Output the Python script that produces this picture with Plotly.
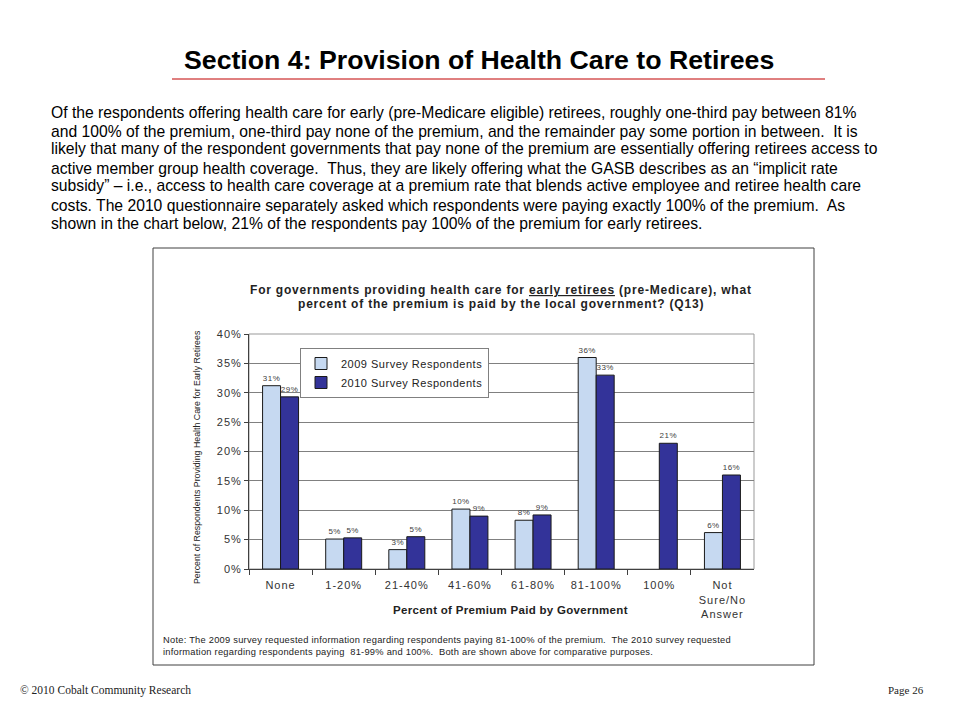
import plotly.graph_objects as go

# ---------------- data ----------------
categories = ["None", "1-20%", "21-40%", "41-60%", "61-80%", "81-100%", "100%",
              "Not<br>Sure/No<br>Answer"]
values_2009 = [31.2, 5.1, 3.3, 10.2, 8.3, 36.0, None, 6.2]
values_2010 = [29.3, 5.3, 5.5, 9.0, 9.2, 33.0, 21.4, 16.0]
labels_2009 = ["31%", "5%", "3%", "10%", "8%", "36%", "", "6%"]
labels_2010 = ["29%", "5%", "5%", "9%", "9%", "33%", "21%", "16%"]
series_names = ["2009 Survey Respondents", "2010 Survey Respondents"]
y_ticks = [0, 5, 10, 15, 20, 25, 30, 35, 40]
y_tick_labels = ["0%", "5%", "10%", "15%", "20%", "25%", "30%", "35%", "40%"]

heading = "Section 4: Provision of Health Care to Retirees"
paragraph_lines = [
    "Of the respondents offering health care for early (pre-Medicare eligible) retirees, roughly one-third pay between 81%",
    "and 100% of the premium, one-third pay none of the premium, and the remainder pay some portion in between.  It is",
    "likely that many of the respondent governments that pay none of the premium are essentially offering retirees access to",
    "active member group health coverage.  Thus, they are likely offering what the GASB describes as an \u201cimplicit rate",
    "subsidy\u201d \u2013 i.e., access to health care coverage at a premium rate that blends active employee and retiree health care",
    "costs. The 2010 questionnaire separately asked which respondents were paying exactly 100% of the premium.  As",
    "shown in the chart below, 21% of the respondents pay 100% of the premium for early retirees.",
]
chart_title_parts = [
    ("For governments providing health care for ", "early retirees", " (pre-Medicare), what"),
    ("percent of the premium is paid by the local government? (Q13)", "", ""),
]
x_title = "Percent of Premium Paid by Government"
y_title = "Percent of Respondents Providing Health Care for Early Retirees"
note_lines = [
    "Note: The 2009 survey requested information regarding respondents paying 81-100% of the premium.  The 2010 survey requested",
    "information regarding respondents paying  81-99% and 100%.  Both are shown above for comparative purposes.",
]
footer_left = "\u00a9 2010 Cobalt Community Research"
footer_right = "Page 26"

# ---------------- layout helpers ----------------
W, H = 960, 720


def px(x):
    return x / W


def py(y):
    return 1 - y / H


def sp(text, ls, extra=""):
    """wrap each line of text in a span with letter-spacing"""
    if not text:
        return text
    parts = text.split("<br>")
    return "<br>".join(
        '<span style="letter-spacing:%spx;%s">%s</span>' % (ls, extra, p) for p in parts)


FONT = "Liberation Sans, Arial, sans-serif"

fig = go.Figure()
fig.add_trace(go.Bar(
    x=categories, y=values_2009, name=sp(series_names[0], 0.5),
    text=[sp(t, 0.5) for t in labels_2009], textposition="outside",
    textfont=dict(size=8, color="#404040", family=FONT),
    marker=dict(color="#C6D9F1", line=dict(color="#1a1a1a", width=1)),
    cliponaxis=False,
))
fig.add_trace(go.Bar(
    x=categories, y=values_2010, name=sp(series_names[1], 0.5),
    text=[sp(t, 0.5) for t in labels_2010], textposition="outside",
    textfont=dict(size=8, color="#404040", family=FONT),
    marker=dict(color="#333399", line=dict(color="#1a1a1a", width=1)),
    cliponaxis=False,
))

fig.update_layout(
    width=W, height=H,
    margin=dict(l=0, r=0, t=0, b=0),
    paper_bgcolor="white", plot_bgcolor="white",
    font=dict(family=FONT, color="#000"),
    barmode="group", bargap=0.43, bargroupgap=0,
    showlegend=True,
    legend=dict(
        x=px(300), y=py(348), xanchor="left", yanchor="top",
        bgcolor="white", bordercolor="#808080", borderwidth=1,
        font=dict(size=11, color="#222", family=FONT),
        itemwidth=30, tracegroupgap=0,
    ),
    xaxis=dict(
        domain=[px(249), px(754)], type="category",
        range=[-0.5, 7.5], showgrid=False,
        tickvals=categories, ticktext=[sp(c, 1.0) for c in categories],
        showline=True, linecolor="#404040", linewidth=1,
        ticks="outside", tickson="boundaries", ticklen=5, tickcolor="#404040",
        tickfont=dict(size=11, color="#333", family=FONT),
        ticklabelstandoff=6,
        automargin=False,
    ),
    yaxis=dict(
        domain=[py(569), py(334)], range=[0, 40],
        tickvals=y_ticks, ticktext=[sp(t, 1.0) for t in y_tick_labels],
        showgrid=True, gridcolor="#808080", gridwidth=1,
        showline=True, linecolor="#404040", linewidth=1,
        ticks="outside", ticklen=4, tickcolor="#404040",
        tickfont=dict(size=11, color="#333", family=FONT),
        zeroline=False, automargin=False,
    ),
)

shapes = [
    # red rule under heading
    dict(type="line", xref="paper", yref="paper", x0=px(172), x1=px(825),
         y0=py(79), y1=py(79), line=dict(color="#C00000", width=1)),
    # chart frame
    dict(type="rect", xref="paper", yref="paper", x0=px(153), x1=px(814),
         y0=py(665), y1=py(248), line=dict(color="#404040", width=1), layer="below"),
    # plot area border
    dict(type="rect", xref="x domain", yref="y domain", x0=0, x1=1, y0=0, y1=1,
         line=dict(color="#999999", width=1), layer="below"),
]
fig.update_layout(shapes=shapes)

ann = []
ann.append(dict(text="<b>" + heading + "</b>", x=px(479), y=py(60), xref="paper", yref="paper",
                xanchor="center", yanchor="middle", showarrow=False,
                font=dict(size=26.7, color="#000", family=FONT)))
para_y = [112, 131, 149, 168, 186, 205, 223]
for line, yy in zip(paragraph_lines, para_y):
    ann.append(dict(text=line, x=px(49), y=py(yy), xref="paper", yref="paper",
                    xanchor="left", yanchor="middle", showarrow=False,
                    font=dict(size=15.7, color="#000", family=FONT)))
for (a, u, b), yy in zip(chart_title_parts, [290, 304]):
    txt = sp(a, 0.8)
    if u:
        txt += '<span style="letter-spacing:0.8px;text-decoration:underline">%s</span>' % u
    if b:
        txt += sp(b, 0.8)
    ann.append(dict(text="<b>" + txt + "</b>", x=px(501), y=py(yy), xref="paper", yref="paper",
                    xanchor="center", yanchor="middle", showarrow=False,
                    font=dict(size=12, color="#222", family=FONT)))
ann.append(dict(text="<b>" + sp(x_title, 0.3) + "</b>", x=px(510), y=py(610), xref="paper", yref="paper",
                xanchor="center", yanchor="middle", showarrow=False,
                font=dict(size=11.5, color="#222", family=FONT)))
ann.append(dict(text=y_title, x=px(197), y=py(457), xref="paper", yref="paper",
                xanchor="center", yanchor="middle", showarrow=False, textangle=-90,
                font=dict(size=8.8, color="#222", family=FONT)))
for line, yy in zip(note_lines, [640, 652]):
    ann.append(dict(text=sp(line, 0.25), x=px(161), y=py(yy), xref="paper", yref="paper",
                    xanchor="left", yanchor="middle", showarrow=False,
                    font=dict(size=9.3, color="#222", family=FONT)))
ann.append(dict(text=footer_left, x=px(18), y=py(690), xref="paper", yref="paper",
                xanchor="left", yanchor="middle", showarrow=False,
                font=dict(size=11.5, color="#222", family="Liberation Serif, serif")))
ann.append(dict(text=footer_right, x=px(926), y=py(690), xref="paper", yref="paper",
                xanchor="right", yanchor="middle", showarrow=False,
                font=dict(size=11, color="#222", family="Liberation Serif, serif")))
fig.update_layout(annotations=ann)

fig.write_html("out.html", config={"displayModeBar": False},
               post_script="document.body.style.margin='0';")
